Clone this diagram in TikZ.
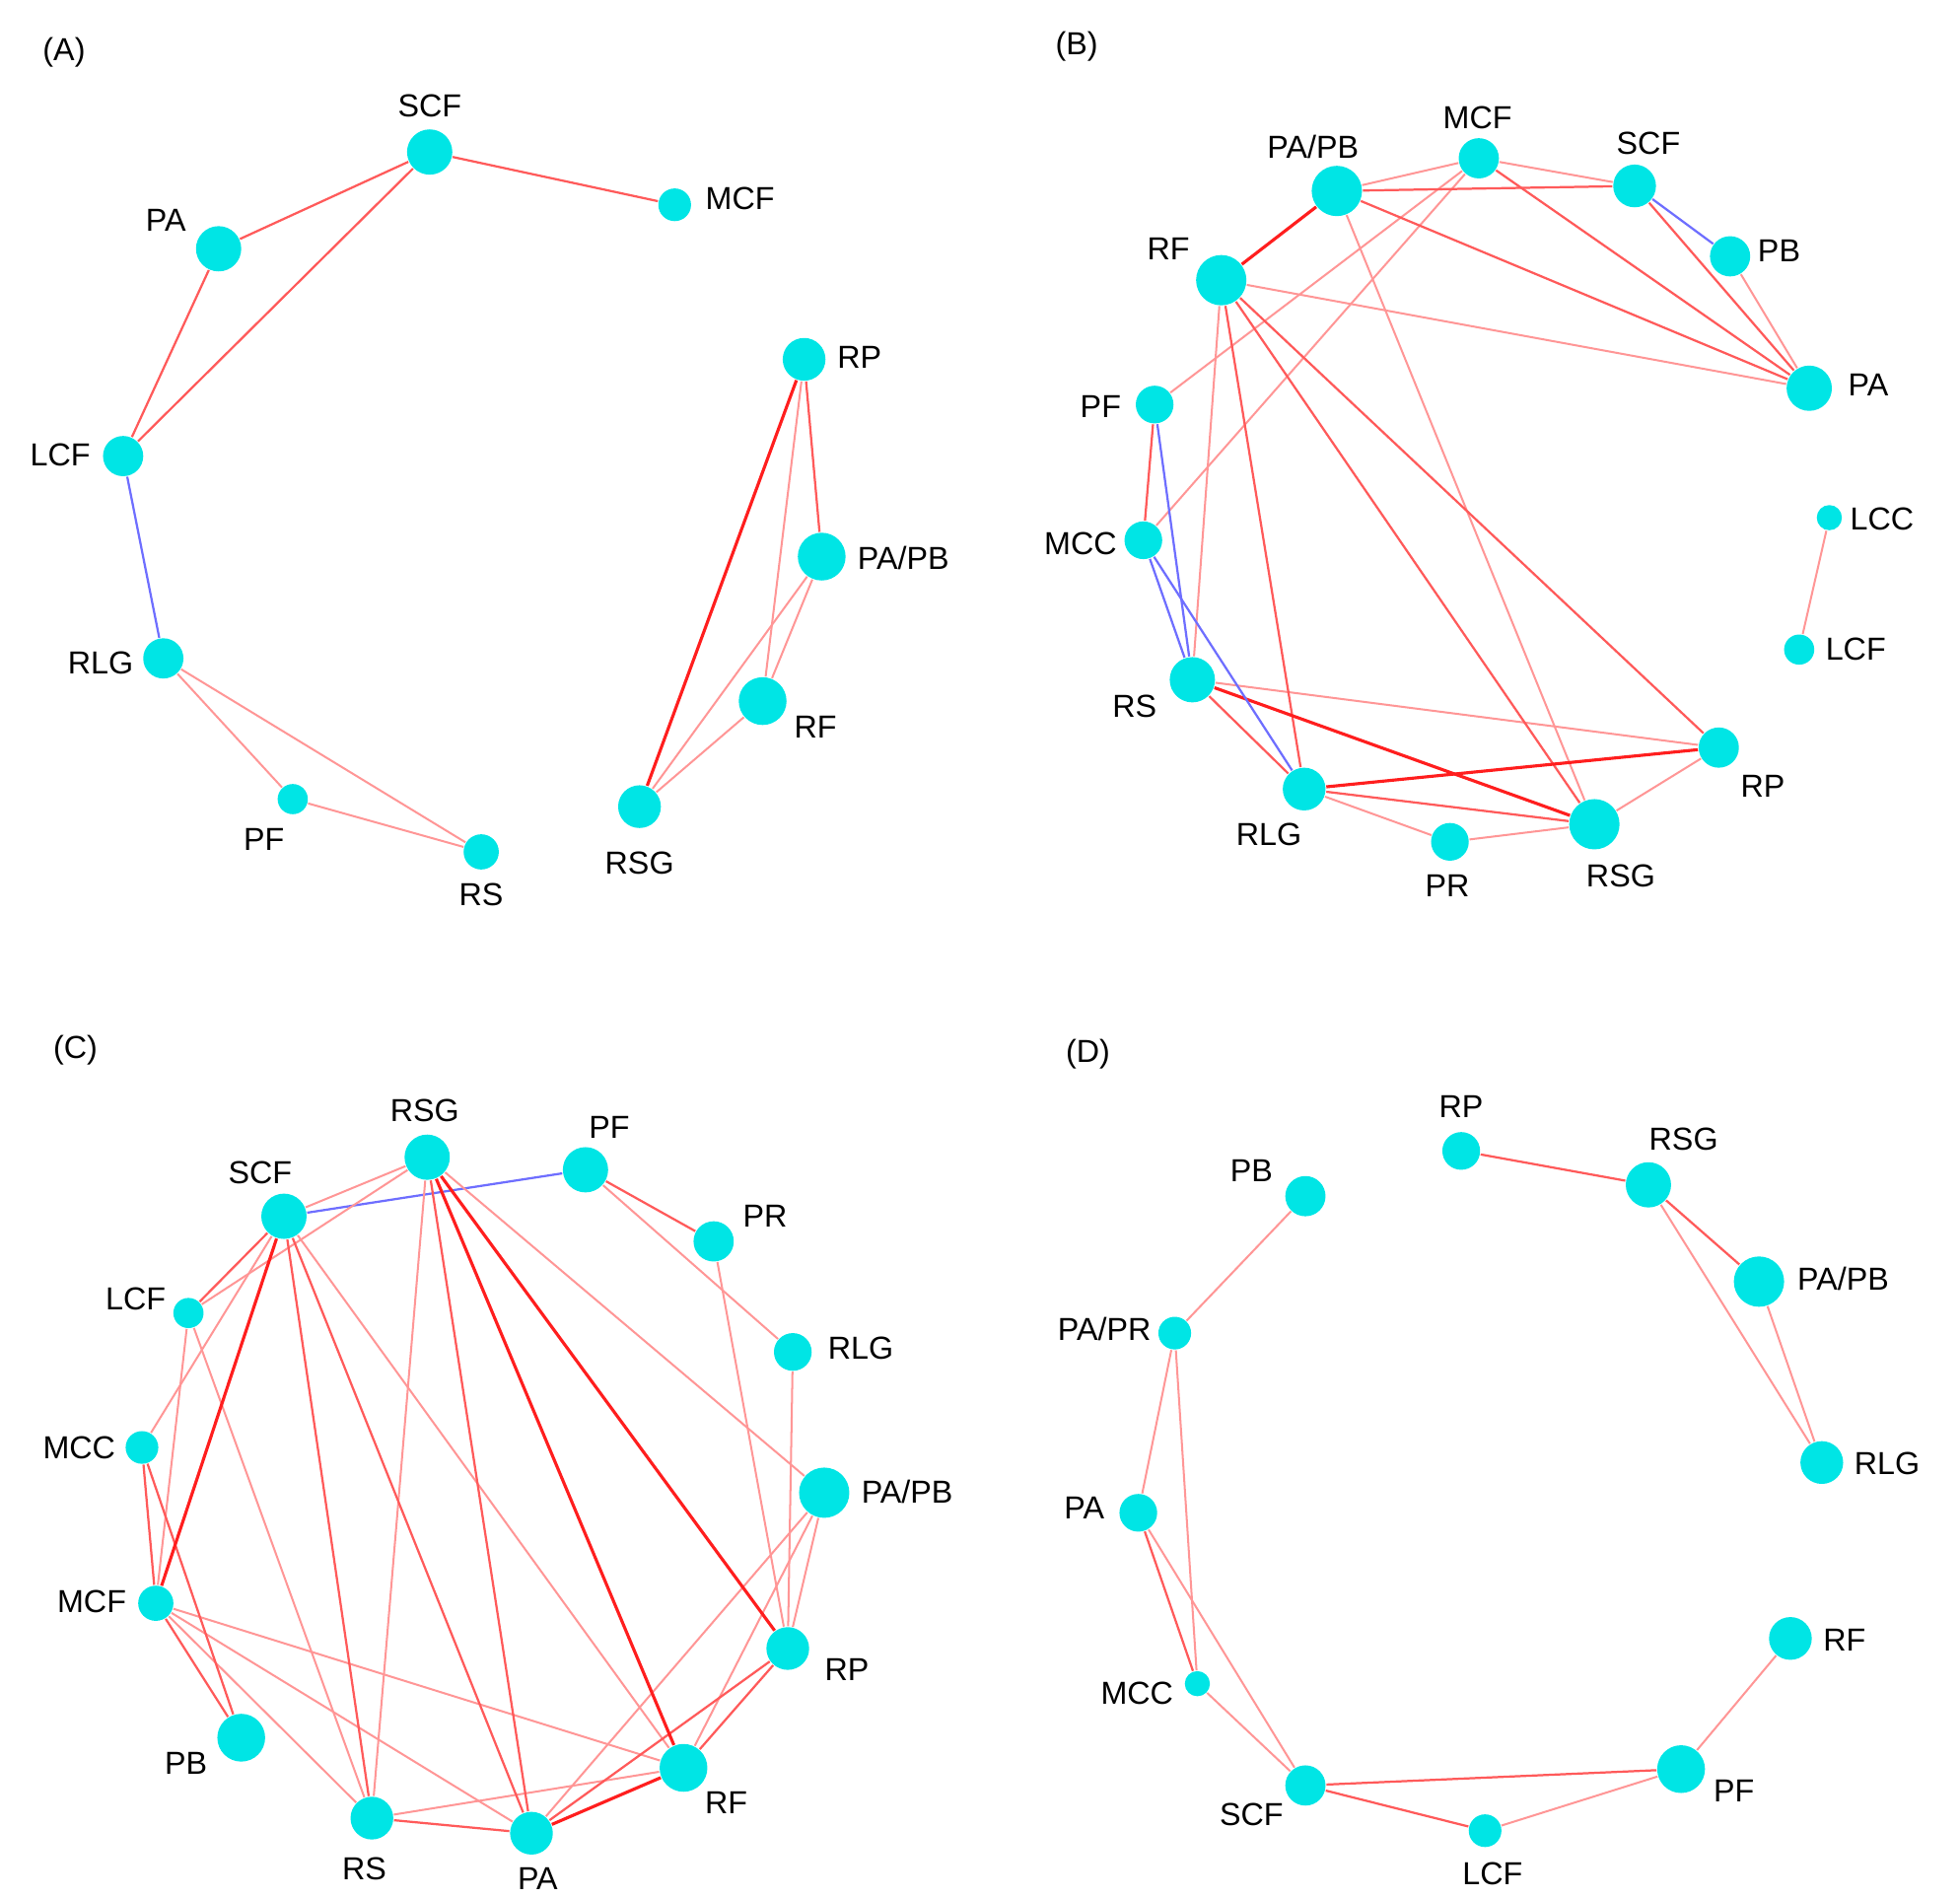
\documentclass[tikz,border=0pt]{standalone}
\usepackage{fontspec}
\setmainfont{Liberation Sans}
\definecolor{nodecol}{RGB}{0,229,229}
\definecolor{sred}{RGB}{255,30,30}
\definecolor{lred}{RGB}{255,150,150}
\definecolor{mred}{RGB}{255,90,90}
\definecolor{eblue}{RGB}{110,110,255}
\newcommand\gnode[7]{%
  \node[nd, minimum size=#4*0.02cm] (#1) at (#2,#3) {};
  \node[lab] (#1-l) at (#6) {#7};}
\begin{document}
\begin{tikzpicture}[x=0.01cm,y=-0.01cm,
  nd/.style={circle,fill=nodecol,inner sep=0pt},
  lab/.style={font=\fontsize{7.2}{8}\selectfont,inner sep=0pt},
  S/.style={draw=sred,line width=0.7pt},
  M/.style={draw=mred,line width=0.5pt},
  L/.style={draw=lred,line width=0.45pt},
  B/.style={draw=eblue,line width=0.5pt}]
\useasboundingbox (0,0) rectangle (1560,1510);
\node[lab] (pA) at (51,42) {(A)};
\node[lab] (pB) at (857,37) {(B)};
\node[lab] (pC) at (60,836) {(C)};
\node[lab] (pD) at (866,839) {(D)};
% ---------- A
\gnode{ASCF}{342}{121}{18}{}{342,84}{SCF}
\gnode{AMCF}{537}{163}{13}{}{589,158}{MCF}
\gnode{APA}{174}{198}{18}{}{132,175}{PA}
\gnode{ALCF}{98}{363}{16}{}{48,362}{LCF}
\gnode{ARLG}{130}{524}{16}{}{80,528}{RLG}
\gnode{APF}{233}{636}{12}{}{210,668}{PF}
\gnode{ARS}{383}{678}{14}{}{383,712}{RS}
\gnode{ARP}{640}{286}{17}{}{684,284}{RP}
\gnode{APAPB}{654}{443}{19}{}{719,444}{PA/PB}
\gnode{ARF}{607}{558}{19}{}{649,579}{RF}
\gnode{ARSG}{509}{642}{17}{}{509,687}{RSG}
\begin{scope}[on background layer/.try]
\end{scope}
\foreach \a/\b in {ASCF/APA,ASCF/ARP} {}
\draw[M] (ASCF) -- (AMCF);
\draw[M] (ASCF) -- (APA);
\draw[M] (ASCF) -- (ALCF);
\draw[M] (APA) -- (ALCF);
\draw[B] (ALCF) -- (ARLG);
\foreach \a/\b in {ARLG/APF,ARLG/ARS,APF/ARS,ARP/ARF,APAPB/ARF,APAPB/ARSG,ARF/ARSG} \draw[L] (\a) -- (\b);
\draw[M] (ARP) -- (APAPB);
\draw[S] (ARP) -- (ARSG);
% ---------- B
\gnode{BPAPB}{1064}{152}{20}{}{1045,117}{PA/PB}
\gnode{BMCF}{1177}{126}{16}{}{1176,94}{MCF}
\gnode{BSCF}{1301}{148}{17}{}{1312,114}{SCF}
\gnode{BPB}{1377}{204}{16}{}{1416,200}{PB}
\gnode{BRF}{972}{223}{20}{}{930,198}{RF}
\gnode{BPA}{1440}{309}{18}{}{1487,306}{PA}
\gnode{BPF}{919}{322}{15}{}{876,324}{PF}
\gnode{BLCC}{1456}{412}{10}{}{1498,413}{LCC}
\gnode{BMCC}{910}{430}{15}{}{860,433}{MCC}
\gnode{BLCF}{1432}{517}{12}{}{1477,517}{LCF}
\gnode{BRS}{949}{541}{18}{}{903,562}{RS}
\gnode{BRP}{1368}{595}{16}{}{1403,626}{RP}
\gnode{BRLG}{1038}{628}{17}{}{1010,664}{RLG}
\gnode{BPR}{1154}{670}{15}{}{1152,705}{PR}
\gnode{BRSG}{1269}{656}{20}{}{1290,697}{RSG}
\foreach \a/\b in {BPAPB/BMCF,BMCF/BSCF,BPB/BPA,BRF/BPA,BPAPB/BRSG,BMCF/BPF,BMCF/BMCC,BRF/BRS,BRS/BRP,BRLG/BPR,BPR/BRSG,BRSG/BRP,BLCC/BLCF} \draw[L] (\a) -- (\b);
\foreach \a/\b in {BPAPB/BSCF,BSCF/BPA,BMCF/BPA,BPAPB/BPA,BRF/BRLG,BRF/BRSG,BRF/BRP,BPF/BMCC,BRS/BRLG,BRLG/BRSG} \draw[M] (\a) -- (\b);
\foreach \a/\b in {BRF/BPAPB,BRS/BRSG,BRLG/BRP} \draw[S] (\a) -- (\b);
\foreach \a/\b in {BSCF/BPB,BPF/BRS,BMCC/BRS,BMCC/BRLG} \draw[B] (\a) -- (\b);
% ---------- C
\gnode{CRSG}{340}{921}{18}{}{338,884}{RSG}
\gnode{CPF}{466}{931}{18}{}{485,897}{PF}
\gnode{CSCF}{226}{968}{18}{}{207,933}{SCF}
\gnode{CPR}{568}{988}{16}{}{609,968}{PR}
\gnode{CLCF}{150}{1045}{12}{}{108,1034}{LCF}
\gnode{CRLG}{631}{1076}{15}{}{685,1073}{RLG}
\gnode{CMCC}{113}{1152}{13}{}{63,1152}{MCC}
\gnode{CPAPB}{656}{1188}{20}{}{722,1187}{PA/PB}
\gnode{CMCF}{124}{1276}{14}{}{73,1275}{MCF}
\gnode{CRP}{627}{1312}{17}{}{674,1329}{RP}
\gnode{CPB}{192}{1383}{19}{}{148,1403}{PB}
\gnode{CRF}{544}{1407}{19}{}{578,1435}{RF}
\gnode{CRS}{296}{1447}{17}{}{290,1487}{RS}
\gnode{CPA}{423}{1459}{17}{}{428,1495}{PA}
\draw[B] (CSCF) -- (CPF);
\foreach \a/\b in {CSCF/CRSG,CSCF/CMCC,CSCF/CRF,CLCF/CRSG,CLCF/CMCF,CLCF/CRS,CRSG/CRS,CRSG/CPAPB,CPF/CRLG,CPR/CRP,CRLG/CRP,CPAPB/CRP,CPAPB/CPA,CPAPB/CRF,CMCF/CRS,CMCF/CPA,CMCF/CRF,CRS/CRF} \draw[L] (\a) -- (\b);
\foreach \a/\b in {CSCF/CLCF,CSCF/CRS,CSCF/CPA,CRSG/CPA,CPF/CPR,CMCC/CMCF,CMCC/CPB,CMCF/CPB,CRS/CPA,CPA/CRP,CRF/CRP} \draw[M] (\a) -- (\b);
\foreach \a/\b in {CSCF/CMCF,CRSG/CRF,CRSG/CRP,CPA/CRF} \draw[S] (\a) -- (\b);
% ---------- D
\gnode{DRP}{1163}{916}{15}{}{1163,881}{RP}
\gnode{DRSG}{1312}{943}{18}{}{1340,907}{RSG}
\gnode{DPB}{1039}{952}{16}{}{996,932}{PB}
\gnode{DPAPB}{1400}{1020}{20}{}{1467,1018}{PA/PB}
\gnode{DPAPR}{935}{1061}{13}{}{879,1058}{PA/PR}
\gnode{DRLG}{1450}{1164}{17}{}{1502,1165}{RLG}
\gnode{DPA}{906}{1204}{15}{}{863,1200}{PA}
\gnode{DRF}{1425}{1304}{17}{}{1468,1305}{RF}
\gnode{DMCC}{953}{1340}{10}{}{905,1348}{MCC}
\gnode{DPF}{1338}{1408}{19}{}{1380,1425}{PF}
\gnode{DSCF}{1039}{1421}{16}{}{996,1444}{SCF}
\gnode{DLCF}{1182}{1457}{13}{}{1188,1491}{LCF}
\foreach \a/\b in {DRSG/DRLG,DPAPB/DRLG,DPB/DPAPR,DPAPR/DPA,DPAPR/DMCC,DPA/DSCF,DMCC/DSCF,DLCF/DPF,DPF/DRF} \draw[L] (\a) -- (\b);
\foreach \a/\b in {DRP/DRSG,DRSG/DPAPB,DPA/DMCC,DSCF/DPF,DSCF/DLCF} \draw[M] (\a) -- (\b);
\end{tikzpicture}
\end{document}
